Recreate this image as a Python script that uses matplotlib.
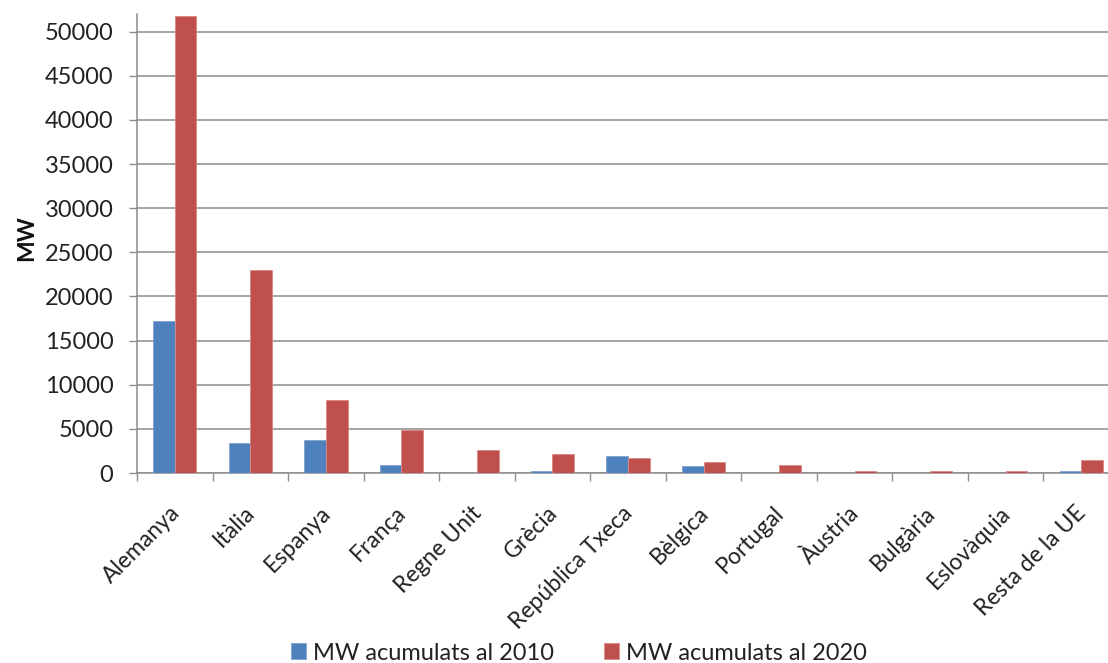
import numpy as np
import matplotlib
matplotlib.use("Agg")
import matplotlib.pyplot as plt
from matplotlib.transforms import ScaledTranslation

countries = ["Alemanya", "Itàlia", "Espanya", "França", "Regne Unit", "Grècia",
             "República Txeca", "Bèlgica", "Portugal", "Àustria", "Bulgària",
             "Eslovàquia", "Resta de la UE"]
mw_2010 = [17200, 3400, 3700, 900, 0, 200, 1900, 800, 0, 0, 0, 0, 200]
mw_2020 = [51750, 23000, 8300, 4850, 2650, 2100, 1650, 1200, 900, 200, 200, 200, 1450]
labels = ["MW acumulats al 2010", "MW acumulats al 2020"]
yticks = list(range(0, 50001, 5000))

plt.rcParams["font.family"] = ["Lato", "DejaVu Sans"]

W, H = 1108, 663
fig = plt.figure(figsize=(W / 100, H / 100), dpi=100)
left, right, bottom, top = 137, 1119, 473, 14
ax = fig.add_axes([left / W, 1 - bottom / H, (right - left) / W, (bottom - top) / H])

x = np.arange(len(countries))
bw = 0.287
b1 = ax.bar(x - bw / 2, mw_2010, bw, color="#4F81BD", edgecolor="#7FA3D0",
            linewidth=0.6, label=labels[0], zorder=3)
b2 = ax.bar(x + bw / 2, mw_2020, bw, color="#C0504D", edgecolor="#D98A88",
            linewidth=0.6, label=labels[1], zorder=3)

ax.set_xlim(-0.5, len(countries) - 0.5)
ax.set_ylim(0, 52000)
ax.set_yticks(yticks)
ax.set_yticklabels([str(v) for v in yticks], fontsize=17, color="#222222")
ax.yaxis.grid(True, color="#8C8C8C", linewidth=1.1, zorder=0)
ax.set_axisbelow(True)

ax.set_xticks(np.arange(-0.5, len(countries) - 0.4, 1.0))
ax.set_xticklabels([])
ax.set_xticks(x, minor=True)
ax.set_xticklabels(countries, minor=True, rotation=45, ha="right",
                   rotation_mode="anchor", fontsize=16.5, color="#222222")
ax.tick_params(axis="x", which="minor", length=0, pad=21)
ax.tick_params(axis="x", which="major", length=6, color="#8C8C8C", width=1)
ax.tick_params(axis="y", length=6, color="#8C8C8C", width=1, pad=11)
shift = ScaledTranslation(-6 / 100, 0, fig.dpi_scale_trans)
for lab in ax.get_xticklabels(minor=True):
    lab.set_transform(lab.get_transform() + shift)

for s in ["top", "right"]:
    ax.spines[s].set_visible(False)
for s in ["left", "bottom"]:
    ax.spines[s].set_color("#8C8C8C")
    ax.spines[s].set_linewidth(1.1)

fig.text(27 / W, 1 - 238 / H, "MW", rotation=90, fontsize=16.5, fontweight="bold",
         ha="center", va="center", color="#111111")

fig.legend(handles=[b1, b2], labels=labels, loc="center", ncol=2,
           bbox_to_anchor=(579 / W, 1 - 653 / H), frameon=False, fontsize=17,
           handlelength=0.64, handleheight=0.64, handletextpad=0.3,
           columnspacing=2.1, labelcolor="#222222", borderpad=0)

fig.savefig("out.png", dpi=100)
